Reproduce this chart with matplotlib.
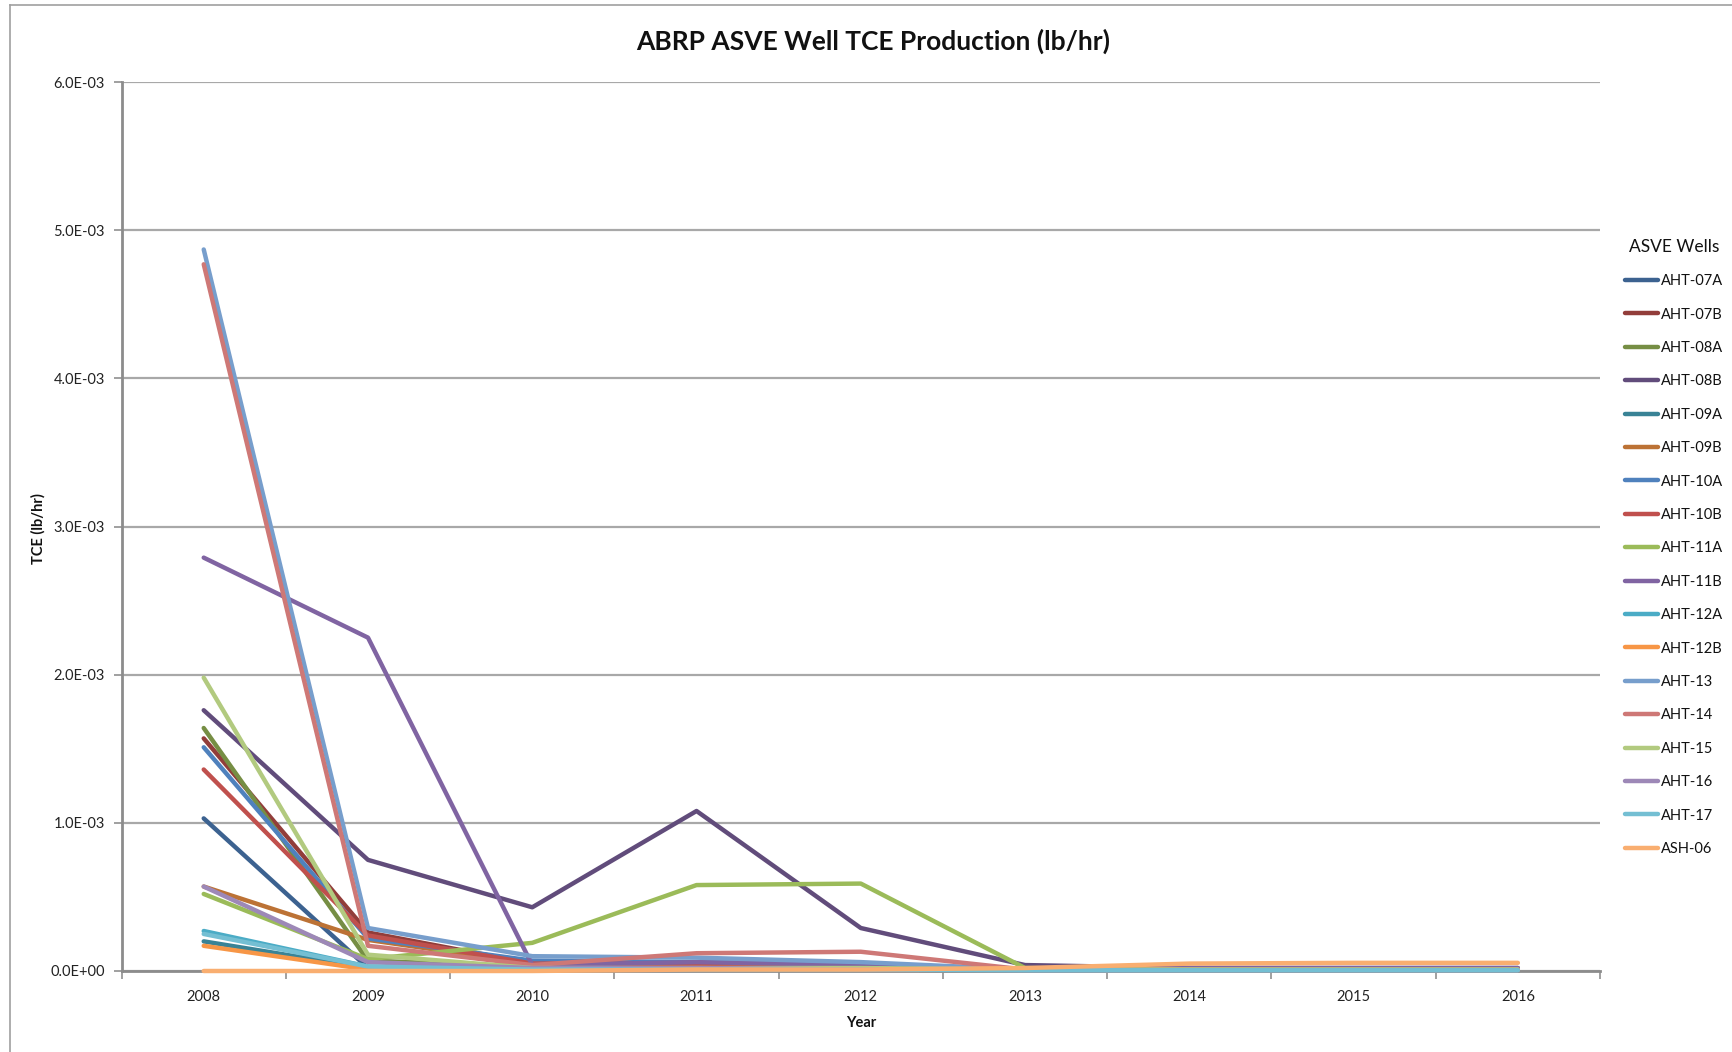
import numpy as np
import matplotlib
matplotlib.use("Agg")
import matplotlib.pyplot as plt
from matplotlib.lines import Line2D
from matplotlib.ticker import FuncFormatter, MultipleLocator

plt.rcParams['font.family'] = ['Lato', 'DejaVu Sans']

years = ['2008', '2009', '2010', '2011', '2012', '2013', '2014', '2015', '2016']

# TCE production, in 1e-3 lb/hr
aht_07a = [1.03, 0.02, 0.03, 0.03, 0.02, 0.005, 0.005, 0.005, 0.005]
aht_07b = [1.57, 0.26, 0.05, 0.04, 0.03, 0.01, 0.01, 0.01, 0.01]
aht_08a = [1.64, 0.07, 0.03, 0.05, 0.04, 0.01, 0.01, 0.01, 0.01]
aht_08b = [1.76, 0.75, 0.43, 1.08, 0.29, 0.04, 0.02, 0.02, 0.02]
aht_09a = [0.20, 0.02, 0.02, 0.02, 0.01, 0.005, 0.005, 0.005, 0.005]
aht_09b = [0.57, 0.21, 0.05, 0.04, 0.03, 0.01, 0.01, 0.01, 0.01]
aht_10a = [1.51, 0.22, 0.07, 0.06, 0.05, 0.01, 0.01, 0.01, 0.01]
aht_10b = [1.36, 0.24, 0.05, 0.05, 0.04, 0.01, 0.01, 0.01, 0.01]
aht_11a = [0.52, 0.08, 0.19, 0.58, 0.59, 0.02, 0.01, 0.01, 0.01]
aht_11b = [2.79, 2.25, 0.04, 0.06, 0.04, 0.01, 0.02, 0.02, 0.02]
aht_12a = [0.27, 0.03, 0.01, 0.01, 0.01, 0.005, 0.005, 0.005, 0.005]
aht_12b = [0.17, 0.01, 0.01, 0.01, 0.01, 0.005, 0.005, 0.005, 0.005]
aht_13 = [4.87, 0.29, 0.10, 0.09, 0.06, 0.01, 0.01, 0.01, 0.01]
aht_14 = [4.77, 0.17, 0.04, 0.12, 0.13, 0.01, 0.01, 0.01, 0.01]
aht_15 = [1.98, 0.11, 0.02, 0.02, 0.02, 0.01, 0.01, 0.01, 0.01]
aht_16 = [0.57, 0.06, 0.02, 0.02, 0.01, 0.005, 0.005, 0.005, 0.005]
aht_17 = [0.25, 0.03, 0.01, 0.01, 0.01, 0.005, 0.005, 0.005, 0.005]
ash_06 = [0.0, 0.0, 0.0, 0.01, 0.01, 0.02, 0.05, 0.055, 0.055]

wells = ['AHT-07A', 'AHT-07B', 'AHT-08A', 'AHT-08B', 'AHT-09A', 'AHT-09B',
         'AHT-10A', 'AHT-10B', 'AHT-11A', 'AHT-11B', 'AHT-12A', 'AHT-12B',
         'AHT-13', 'AHT-14', 'AHT-15', 'AHT-16', 'AHT-17', 'ASH-06']
series = [aht_07a, aht_07b, aht_08a, aht_08b, aht_09a, aht_09b,
          aht_10a, aht_10b, aht_11a, aht_11b, aht_12a, aht_12b,
          aht_13, aht_14, aht_15, aht_16, aht_17, ash_06]
colors = ['#3C6290', '#923D3A', '#768E44', '#614C7B', '#398396', '#BC7235',
          '#4F81BD', '#C0504D', '#9BBB59', '#8064A2', '#4BACC6', '#F79646',
          '#779ECC', '#CE7876', '#B2CA7F', '#9D88B7', '#74BFD3', '#F9AE70']

fig = plt.figure(figsize=(17.32, 10.52), dpi=100)
ax = fig.add_axes([0.0702, 0.077, 0.8536, 0.845])

x = np.arange(len(years))
for name, vals, c in zip(wells, series, colors):
    ax.plot(x, np.array(vals) * 1e-3, color=c, linewidth=3.2, label=name,
            solid_capstyle='round', solid_joinstyle='round', zorder=3, clip_on=False)

ax.set_xlim(-0.5, len(years) - 0.5)
ax.set_ylim(0, 6e-3)
ax.yaxis.set_major_locator(MultipleLocator(1e-3))
ax.yaxis.set_major_formatter(FuncFormatter(lambda v, p: f"{v:.1E}"))
ax.set_xticks(x)
ax.set_xticklabels(years)
ax.set_xticks(np.arange(-0.5, len(years)), minor=True)
ax.tick_params(axis='x', which='major', length=0, pad=14, labelsize=10.5, labelcolor='#222222')
ax.tick_params(axis='x', which='minor', length=6, width=1.2, color='#909090', direction='out')
ax.tick_params(axis='y', length=6, width=1.2, color='#909090', pad=6, labelsize=10.5, labelcolor='#222222')

ax.grid(axis='y', color='#A8A8A8', linewidth=1.6)
ax.set_axisbelow(True)
for s in ['top', 'right']:
    ax.spines[s].set_visible(False)
ax.spines['left'].set_color('#8C8C8C')
ax.spines['left'].set_linewidth(2)
ax.spines['bottom'].set_color('#8C8C8C')
ax.spines['bottom'].set_linewidth(2)

fig.text(0.504, 0.961, 'ABRP ASVE Well TCE Production (lb/hr)', ha='center', va='center',
         fontsize=19, fontweight='bold', color='#111111')
fig.text(0.022, 0.498, 'TCE (lb/hr)', rotation=90, ha='center', va='center',
         fontsize=10.5, fontweight='bold', color='#111111')
fig.text(0.4975, 0.028, 'Year', ha='center', va='center',
         fontsize=10.5, fontweight='bold', color='#111111')

leg = ax.legend(loc='upper left', bbox_to_anchor=(0.9305, 0.7855), bbox_transform=fig.transFigure,
                frameon=False, fontsize=10.5, handlelength=2.3, handletextpad=0.2,
                labelspacing=1.33, title='ASVE Wells', title_fontsize=12.5)
leg.get_title().set_color('#111111')
for t in leg.get_texts():
    t.set_color('#111111')

# outer chart border
fig.add_artist(Line2D([0.0055, 1.0], [0.9955, 0.9955], color='#A0A0A0', linewidth=1.2))
fig.add_artist(Line2D([0.0055, 0.0055], [0.0, 0.9955], color='#A0A0A0', linewidth=1.2))

fig.savefig('out.png', dpi=100)
